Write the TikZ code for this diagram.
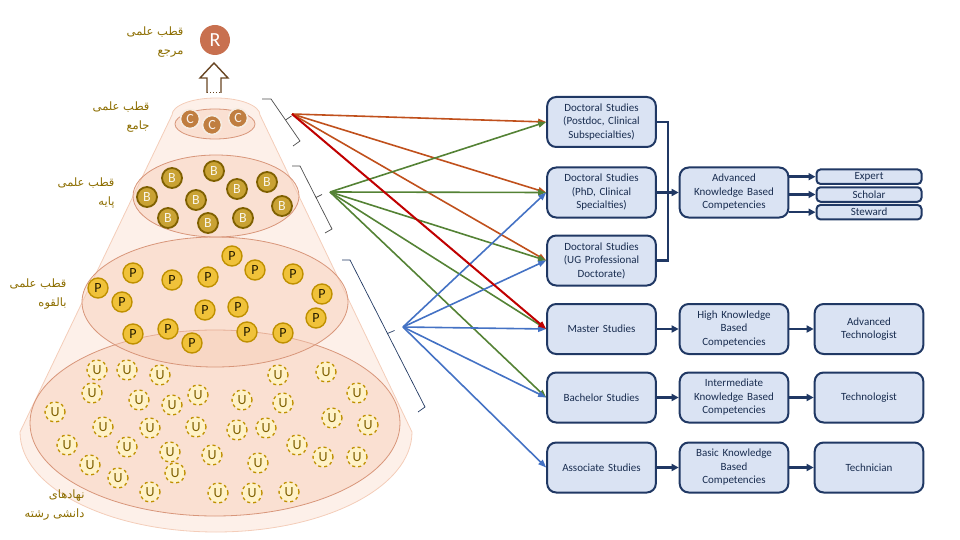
\documentclass[tikz,border=0pt]{standalone}
\usepackage{fontspec}
\setmainfont{Carlito}
\newfontfamily\farsifont[Script=Arabic]{DejaVu Sans}
\TeXXeTstate=1
\usetikzlibrary{arrows.meta, calc}

\definecolor{navy}{HTML}{203864}
\definecolor{boxfill}{HTML}{DAE3F3}
\definecolor{conefill}{HTML}{FDF0E9}
\definecolor{coneline}{HTML}{F4CDB9}
\definecolor{levelfill}{HTML}{F7CDB7}
\definecolor{levelline}{HTML}{D8967A}
\definecolor{olivetext}{HTML}{8C6D00}
\definecolor{redarrow}{HTML}{C00000}
\definecolor{brownarrow}{HTML}{C0501C}
\definecolor{greenarrow}{HTML}{548235}
\definecolor{bluearrow}{HTML}{4472C4}
\definecolor{refill}{HTML}{C8704F}
\definecolor{cfill}{HTML}{C07E40}
\definecolor{bfill}{HTML}{C9A234}
\definecolor{bline}{HTML}{7F6000}
\definecolor{pfill}{HTML}{F0C23A}
\definecolor{pline}{HTML}{BF9000}
\definecolor{ufill}{HTML}{FFF2C8}

\tikzset{
  studybox/.style = {rectangle, rounded corners=9pt, draw=navy, line width=2pt,
                     fill=boxfill, minimum width=105pt, minimum height=50pt,
                     text width=102pt, align=center, text=navy!80!black,
                     font=\fontsize{11}{13.5}\selectfont},
  rolebox/.style  = {studybox, rounded corners=4pt, minimum height=14.5pt,
                     inner sep=0pt},
  link/.style     = {-{Triangle[length=7pt,width=7pt]}, navy, line width=2.5pt},
  feed/.style     = {-{Triangle[length=8pt,width=6pt]}, line width=1.6pt},
  cone/.style     = {fill=conefill, draw=coneline, line width=0.8pt},
  level/.style    = {fill=levelfill, fill opacity=0.45, draw=levelline,
                     line width=0.8pt},
  coin/.style     = {circle, minimum size=20pt, inner sep=0pt,
                     font=\fontsize{14}{14}\selectfont},
  ccirc/.style    = {coin, minimum size=19pt, fill=cfill, draw=white!85!cfill,
                     line width=1.6pt, text=white!90!cfill},
  bcirc/.style    = {coin, fill=bfill, draw=bline, line width=1.8pt,
                     text=white!88!bfill},
  pcirc/.style    = {coin, fill=pfill, draw=pline, line width=1.4pt,
                     text=black!70!bline},
  ucirc/.style    = {coin, fill=ufill, draw=pline, dashed, line width=1.3pt,
                     text=bline},
  polelabel/.style= {font=\farsifont\fontsize{11.5}{19}\selectfont,
                     text=olivetext, align=right, anchor=east},
  brace/.style    = {line width=0.7pt, draw=black!70},
}

\begin{document}
\begin{tikzpicture}[x=1pt, y=-1pt]
  \useasboundingbox (0,0) rectangle (960,540);

  % cone
  \filldraw[cone] (172,115) -- (20,432)
    arc[start angle=180, end angle=0, x radius=196, y radius=100]
    -- (260,115)
    arc[start angle=0, end angle=-180, x radius=44, y radius=17] -- cycle;

  % levels of the cone
  \filldraw[level] (215,423) ellipse[x radius=185, y radius=93];
  \filldraw[level] (215,302) ellipse[x radius=133, y radius=65];
  \filldraw[level] (216,196) ellipse[x radius=83, y radius=41];
  \filldraw[level] (215,124) ellipse[x radius=40, y radius=15];

  % reference pole and the arrow up to it
  \node[coin, minimum size=30pt, fill=refill, text=white,
        font=\fontsize{20}{20}\selectfont] (ref) at (215,40) {R};
  \fill[white] (207,93) -- (207,78) -- (200,78) -- (214,63) -- (228,78)
    -- (221,78) -- (221,93) -- cycle;
  \draw[line width=1.4pt, draw=black!45!brown] (207,93) -- (207,78) -- (200,78)
    -- (214,63) -- (228,78) -- (221,78) -- (221,93);
  \draw[line width=1pt, dotted, draw=black!45!brown] (207,93) -- (221,93);

  % C level
  \foreach \x/\y [count=\i] in {190/119, 212/125, 238/118}
    \node[ccirc] (c\i) at (\x,\y) {C};

  % B level
  \foreach \x/\y [count=\i] in {172/178, 214/171, 237/189, 267/182, 147/197,
      196/200, 282/206, 168/218, 208/223, 243/218}
    \node[bcirc] (b\i) at (\x,\y) {B};

  % P level
  \foreach \x/\y [count=\i] in {98/288, 133/273, 122/302, 172/280, 208/277,
      232/256, 255/270, 293/274, 322/294, 316/318, 205/310, 238/307,
      133/334, 168/329, 192/343, 247/332, 283/333}
    \node[pcirc] (p\i) at (\x,\y) {P};

  % U level
  \foreach \x/\y [count=\i] in {97/370, 127/370, 160/375, 278/375, 326/372,
      92/393, 139/400, 172/405, 198/395, 242/400, 283/403, 357/393,
      55/412, 103/427, 150/428, 196/427, 237/430, 266/428, 332/418,
      368/425, 67/445, 127/447, 170/452, 212/455, 297/445, 323/457,
      357/457, 90/465, 175/473, 258/463, 118/478, 150/492, 218/493,
      252/493, 289/492}
    \node[ucirc] (u\i) at (\x,\y) {U};

  % labels of the poles
  \node[polelabel] (lblR) at (187,42.5) {\beginR قطب علمی\endR\\\beginR مرجع\endR};
  \node[polelabel] (lblC) at (153,117.5) {\beginR قطب علمی\endR\\\beginR جامع\endR};
  \node[polelabel] (lblB) at (118,193.5) {\beginR قطب علمی\endR\\\beginR پایه\endR};
  \node[polelabel] (lblP) at (70,294.5) {\beginR قطب علمی\endR\\\beginR بالقوه\endR};
  \node[polelabel] (lblU) at (88,505) {\beginR نهادهای\endR\\\beginR دانشی رشته\endR};

  % braces along the cone
  \draw[brace] (262,99) -- (271,99) -- (300,141) -- (293,146);
  \draw[brace] ($(271,99)!0.5!(300,141)$) -- ++(6,-4);
  \draw[brace] (292,166) -- (300,166) -- (332,229) -- (325,233);
  \draw[brace] ($(300,166)!0.5!(332,229)$) -- ++(6,-3);
  \draw[brace, draw=black!50!bluearrow] (342,260) -- (350,260) -- (425,407) -- (418,412);
  \draw[brace, draw=black!50!bluearrow] ($(350,260)!0.5!(425,407)$) -- ++(7,-3);

  % study levels
  \node[studybox] (d1) at (601.5,122) {Doctoral Studies\\(Postdoc, Clinical\\Subspecialties)};
  \node[studybox] (d2) at (601.5,192.5) {Doctoral Studies\\(PhD, Clinical\\Specialties)};
  \node[studybox] (d3) at (601.5,260.5) {Doctoral Studies\\(UG Professional\\Doctorate)};
  \node[studybox] (mst) at (601.5,329) {Master Studies};
  \node[studybox] (bch) at (601.5,397.5) {Bachelor Studies};
  \node[studybox] (asc) at (601.5,467.5) {Associate Studies};

  % competencies
  \node[studybox] (adv) at (734,192.5) {Advanced\\Knowledge Based\\Competencies};
  \node[studybox] (high) at (734,329) {High Knowledge\\Based\\Competencies};
  \node[studybox] (inter) at (734,397.5) {Intermediate\\Knowledge Based\\Competencies};
  \node[studybox] (basic) at (734,467.5) {Basic Knowledge\\Based\\Competencies};

  % roles
  \node[rolebox] (expert) at (869,176.7) {Expert};
  \node[rolebox] (scholar) at (869,194.5) {Scholar};
  \node[rolebox] (steward) at (869,212.2) {Steward};
  \node[studybox] (advtech) at (869,329) {Advanced\\Technologist};
  \node[studybox] (tech) at (869,397.5) {Technologist};
  \node[studybox] (techn) at (869,467.5) {Technician};

  % links between the boxes
  \coordinate (jn) at ($(d2.east)!0.5!(adv.west)$);
  \draw[link, -] (d1.east) -| (jn) |- (d3.east);
  \draw[link] (d2.east) -- (adv.west);
  \foreach \t in {expert, scholar, steward}
    \draw[link] (adv.east |- \t.west) -- (\t.west);
  \foreach \a/\b in {mst/high, high/advtech, bch/inter, inter/tech,
      asc/basic, basic/techn}
    \draw[link] (\a) -- (\b);

  % feeds from the poles
  \coordinate (srcC) at (292,114);
  \coordinate (srcB) at (330,192);
  \coordinate (srcP) at (403,327);
  \foreach \t in {d1, d2, d3}
    \draw[feed, brownarrow] (srcC) -- (\t.west);
  \foreach \t in {d1, d2, d3, mst, bch}
    \draw[feed, greenarrow] (srcB) -- (\t.west);
  \foreach \t in {d2, d3, mst, bch, asc}
    \draw[feed, bluearrow] (srcP) -- (\t.west);
  \draw[feed, redarrow, line width=2pt] (srcC) -- (mst.west);
\end{tikzpicture}
\end{document}
